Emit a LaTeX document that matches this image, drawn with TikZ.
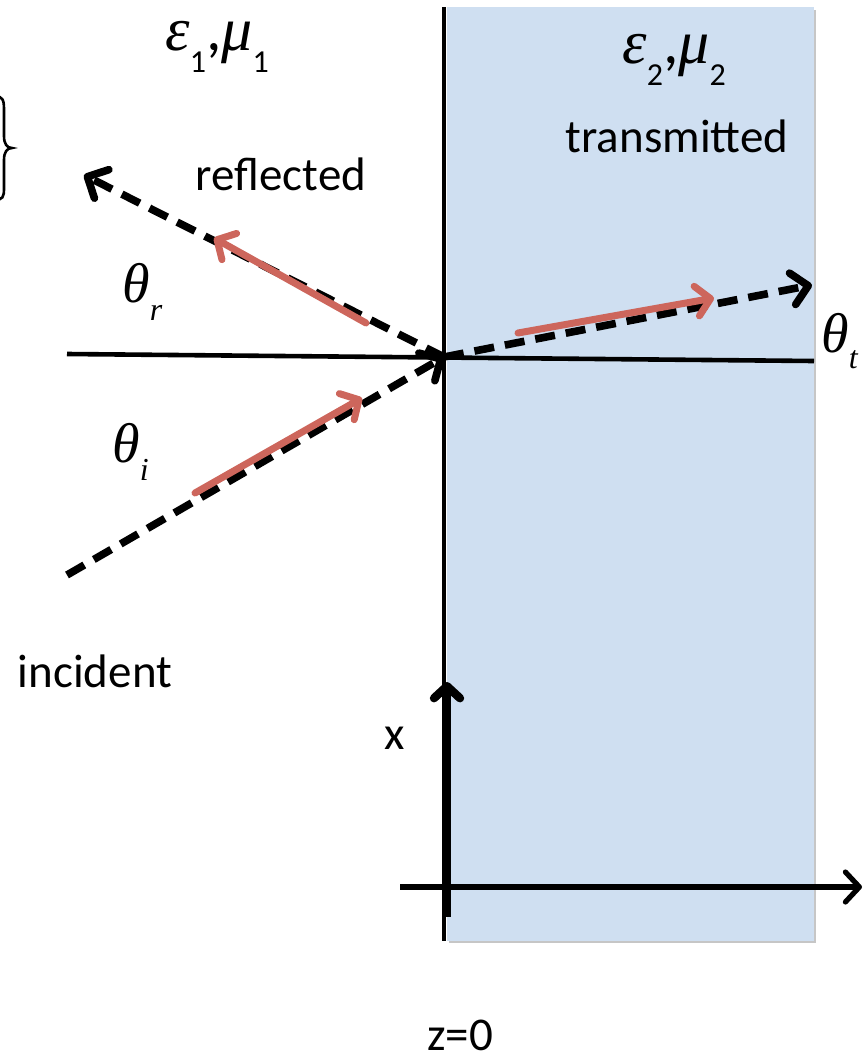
\documentclass[tikz,border=0pt]{standalone}
\usepackage{fontspec}
\setmainfont{Carlito}
\newfontfamily\gk{Liberation Serif}
\usetikzlibrary{arrows.meta}
\definecolor{slab}{RGB}{207,223,241}
\definecolor{redray}{RGB}{205,102,92}
\newcommand{\gsym}[1]{{\gk\itshape #1}}
\newcommand{\lowsub}[2]{\raisebox{-#1}{\fontsize{16}{16}\selectfont #2}}
\tikzset{
  ray/.style={line width=3.8pt, dash pattern=on 10pt off 5.5pt, -{Straight Barb[length=8pt,width=16pt,round]}},
  redarrow/.style={line width=3.5pt, redray, line cap=round, -{Straight Barb[length=7pt,width=15pt,round]}},
  lbl/.style={inner sep=0pt, font=\fontsize{23.5}{28}\selectfont},
  mlbl/.style={inner sep=0pt, font=\fontsize{28}{32}\selectfont},
  elbl/.style={inner sep=0pt, font=\fontsize{31}{34}\selectfont},
}
\begin{document}
\begin{tikzpicture}[x=0.5pt,y=-0.5pt]
\useasboundingbox (0,0) rectangle (863,1060);
\clip (0,0) rectangle (863,1060);
% slab with slight shadow
\fill[gray!45] (449,10) rectangle (816,943);
\fill[slab] (447,7) rectangle (814,941);
% interface and normal
\coordinate (O) at (444,357);
\draw[line width=2.3pt] (444,7) -- (444,941);
\coordinate (Nl) at (67,354);
\coordinate (Nr) at (814,361);
\draw[line width=2.3pt] (Nl) -- (Nr);
% axes
\coordinate (Zs) at (400,887);
\coordinate (Ze) at (862,887);
\draw[line width=2.6pt, -{Straight Barb[length=7pt,width=15pt,round]}] (Zs) -- (Ze);
\coordinate (Xs) at (447,917);
\coordinate (Xe) at (447,682);
\draw[line width=4.2pt, -{Straight Barb[length=6pt,width=13pt,round]}] (Xs) -- (Xe);
% rays
\coordinate (I) at (67,575);
\coordinate (R) at (84,175);
\coordinate (T) at (812,285);
\draw[ray] (I) -- (O);
\draw[ray] (O) -- (R);
\draw[ray] (O) -- (T);
% red arrows
\coordinate (ia) at (195,493);
\coordinate (ib) at (362,398);
\coordinate (ra) at (366,323);
\coordinate (rb) at (214,238);
\coordinate (ta) at (518,333);
\coordinate (tb) at (714,298);
\draw[redarrow] (ia) -- (ib);
\draw[redarrow] (ra) -- (rb);
\draw[redarrow] (ta) -- (tb);
% brace (cut by left edge)
\draw[line width=1.3pt] (-6,96) .. controls (3,96) and (4,100) .. (4,110)
  -- (4,136) .. controls (4,144) and (7,148) .. (12,148)
  .. controls (7,148) and (4,152) .. (4,160)
  -- (4,188) .. controls (4,197) and (3,200) .. (-6,200);
% labels
\node[elbl, anchor=base west] (m1) at (165,50) {\gsym{ε}\lowsub{11pt}{1},\gsym{μ}\lowsub{11pt}{1}};
\node[elbl, anchor=base west] (m2) at (622,63) {\gsym{ε}\lowsub{11pt}{2},\gsym{μ}\lowsub{11pt}{2}};
\node[lbl] (trans) at (677,136) {transmitted};
\node[lbl] (refl) at (281,174) {reflected};
\node[lbl] (inc) at (95,671) {incident};
\node[lbl] (xl) at (395,738) {x};
\node[lbl, anchor=base] (z0) at (460,1050) {z=0};
\node[mlbl, anchor=base west] (thr) at (122,302) {\gsym{θ}\lowsub{9pt}{\gsym{r}}};
\node[mlbl, anchor=base west] (thi) at (112,462) {\gsym{θ}\lowsub{9pt}{\gsym{i}}};
\node[mlbl, anchor=base west] (tht) at (821,352) {\gsym{θ}\lowsub{8pt}{\gsym{t}}};
\end{tikzpicture}
\end{document}
